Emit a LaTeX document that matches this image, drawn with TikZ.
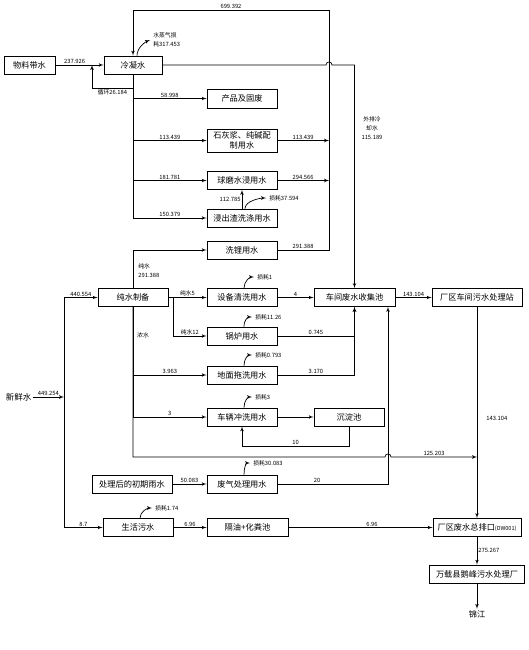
\documentclass[tikz,border=0pt]{standalone}
\usepackage{fontspec}
\newfontfamily\cjk{Noto Sans CJK SC}
\usetikzlibrary{arrows}
\begin{document}
\begin{tikzpicture}[x=1pt,y=-1pt,line width=0.7pt]
    
    \tikzset{box/.style = {shape=rectangle,draw,minimum width=70pt,minimum height=18pt,inner sep=1pt,font=\cjk\fontsize{8.2}{10}\selectfont}}
    \tikzset{lab/.style = {inner sep=1pt,font=\cjk\fontsize{5.8}{9}\selectfont}}
    \tikzset{edge/.style = {->,> = latex'}}
    \useasboundingbox (0,0) rectangle (528,650);
    \node[box,minimum width=51pt] (A) at (29.5,65) {物料带水};
    \node[box,minimum width=58pt] (B) at (133,65) {冷凝水};
    \node[box,minimum height=19pt] (C) at (242,98.5) {产品及固废};
    \node[box,minimum height=23pt,align=center] (D) at (242,140.5) {石灰浆、纯碱配\\制用水};
    \node[box] (E) at (242,180.5) {球磨水浸用水};
    \node[box] (F) at (242,218) {浸出渣洗涤用水};
    \node[box] (G) at (242,250) {洗锂用水};
    \node[box] (P) at (133,297.5) {纯水制备};
    \node[box] (Q) at (242,297.5) {设备清洗用水};
    \node[box] (R) at (242,336) {锅炉用水};
    \node[box] (S) at (242,375) {地面拖洗用水};
    \node[box] (T) at (242,417) {车辆冲洗用水};
    \node[box] (U) at (349,417) {沉淀池};
    \node[box] (V) at (242,484) {废气处理用水};
    \node[box,minimum width=80pt] (W) at (132,484) {处理后的初期雨水};
    \node[box] (X) at (138,527.5) {生活污水};
    \node[box,minimum width=81pt] (Y) at (247.5,527.5) {隔油+化粪池};
    \node[box,minimum width=81pt] (K) at (354.5,297.5) {车间废水收集池};
    \node[box,minimum width=90pt] (L) at (477,297.5) {厂区车间污水处理站};
    \node[box,minimum width=88pt] (M) at (477,527.5) {厂区废水总排口{\fontsize{5.5}{6}\selectfont(DW001)}};
    \node[box,minimum width=95pt] (N) at (477,574) {万载县鹅峰污水处理厂};
    \node[inner sep=1pt,font=\cjk\fontsize{8.2}{10}\selectfont] (J) at (477,614) {锦江};
    \node[inner sep=1pt,font=\cjk\fontsize{8.5}{10}\selectfont] (Z) at (18.5,397) {新鲜水};
    %losses
    \node[lab,anchor=west,align=left] (H0) at (152,40) {水蒸气损\\耗317.453};
    \node[lab,anchor=west] (H1) at (268,198) {损耗37.594};
    \node[lab,anchor=west] (H2) at (256,277) {损耗1};
    \node[lab,anchor=west] (H3) at (254,317) {损耗11.26};
    \node[lab,anchor=west] (H4) at (254,355) {损耗0.793};
    \node[lab,anchor=west] (H5) at (254,397) {损耗3};
    \node[lab,anchor=west] (H6) at (252,463) {损耗30.083};
    \node[lab,anchor=west] (H7) at (154,508) {损耗1.74};
    \node[lab,align=center] (O) at (372,128) {外排冷\\却水\\115.189};
    \node[lab,anchor=west,align=left] (O1) at (137,271) {纯水\\291.388};
    \node[lab] (O2) at (143,335) {浓水};
    %points
    \coordinate (A1) at (92,65);
    \coordinate (B1) at (133,88);
    \coordinate (B2) at (326,65);
    \coordinate (B3) at (332,65);
    \coordinate (B4) at (354.5,65);
    \coordinate (G1) at (329,250);
    \coordinate (G2) at (329,10);
    \coordinate (G3) at (133,10);
    \coordinate (D1) at (329,140.5);
    \coordinate (E1) at (329,180.5);
    \coordinate (Z1) at (64,397);
    \coordinate (P1) at (173,297.5);
    \coordinate (P2) at (133,457);
    \coordinate (P3) at (385,457);
    \coordinate (P4) at (391,457);
    \coordinate (P5) at (477,457);
    \coordinate (U1) at (242,446);
    \coordinate (K1) at ([xshift=33.5pt]K.south);
    %edges
    \draw[edge] (A) -- (B) node[lab,above,pos=0.4] {237.926};
    \draw[edge] (B1) -| (A1) node[lab,below,pos=0.25] {循环26.184};
    \draw[edge] (B) |- (C) node[lab,above,pos=0.75] {58.998};
    \draw[edge] (B) |- (D) node[lab,above,pos=0.75] {113.439};
    \draw[edge] (B) |- (E) node[lab,above,pos=0.75] {181.781};
    \draw[edge] (B) |- (F) node[lab,above,pos=0.75] {150.379};
    \draw[edge] (G) -- (G1) node[lab,above,midway] {291.388} -- (G2) -- (G3) node[lab,above,midway] {699.392} -- (B);
    \draw[edge] (D) -- (D1) node[lab,above,midway] {113.439};
    \draw[edge] (E) -- (E1) node[lab,above,midway] {294.566};
    \draw[edge] (F) -- (E) node[lab,left,midway] {112.785};
    \draw[edge] (B) -- (B2) .. controls (326,61) and (332,61) .. (B3) -- (B4) -- (K);
    \draw[edge] (P) |- (G);
    \draw[edge] (Z) -- (Z1) node[lab,above,midway] {449.254};
    \draw[edge] (Z1) |- (P) node[lab,above,pos=0.75] {440.554};
    \draw[edge] (Z1) |- (X) node[lab,above,pos=0.75] {8.7};
    \draw[edge] (P) -- (Q) node[lab,above,midway] {纯水5};
    \draw[edge] (P1) |- (R) node[lab,above,pos=0.75] {纯水12};
    \draw[edge] (P) |- (S) node[lab,above,pos=0.75] {3.963};
    \draw[edge] (P) |- (T) node[lab,above,pos=0.75] {3};
    \draw[edge] (P) -- (P2) -- (P3) .. controls (385,453) and (391,453) .. (P4) -- (P5) node[lab,above,midway] {125.203};
    \draw[edge] (Q) -- (K) node[lab,above,midway] {4};
    \draw[edge] (R) -| (K) node[lab,above,pos=0.25] {0.745};
    \draw[edge] (S) -| (K) node[lab,above,pos=0.25] {3.170};
    \draw[edge] (T) -- (U);
    \draw[edge] (U) |- (U1) node[lab,above,pos=0.75] {10} -- (T);
    \draw[edge] (W) -- (V) node[lab,above,midway] {50.083};
    \draw[edge] (V) -| (K1) node[lab,above,pos=0.18] {20};
    \draw[edge] (K) -- (L) node[lab,above,midway] {143.104};
    \draw[edge] (L) -- (M) node[lab,right,pos=0.53,xshift=8pt] {143.104};
    \draw[edge] (X) -- (Y) node[lab,above,midway] {6.96};
    \draw[edge] (Y) -- (M) node[lab,above,pos=0.58] {6.96};
    \draw[edge] (M) -- (N) node[lab,right,midway] {275.267};
    \draw[edge] (N) -- (J);
    %loss arrows
    \draw[edge] ([xshift=4pt]B.north) .. controls +(0,-8) and +(-5,2) .. ([xshift=-2pt]H0.west);
    \draw[edge] ([xshift=3pt]F.north) .. controls +(0,-8) and +(-5,0) .. ([xshift=-2pt]H1.west);
    \draw[edge] ([xshift=2pt]Q.north) .. controls +(0,-7) and +(-4,0) .. ([xshift=-2pt]H2.west);
    \draw[edge] ([xshift=2pt]R.north) .. controls +(0,-7) and +(-4,0) .. ([xshift=-2pt]H3.west);
    \draw[edge] ([xshift=2pt]S.north) .. controls +(0,-7) and +(-4,0) .. ([xshift=-2pt]H4.west);
    \draw[edge] ([xshift=2pt]T.north) .. controls +(0,-7) and +(-4,0) .. ([xshift=-2pt]H5.west);
    \draw[edge] ([xshift=2pt]V.north) .. controls +(0,-7) and +(-4,0) .. ([xshift=-2pt]H6.west);
    \draw[edge] ([xshift=2pt]X.north) .. controls +(0,-7) and +(-4,0) .. ([xshift=-2pt]H7.west);
    \end{tikzpicture}
\end{document}
